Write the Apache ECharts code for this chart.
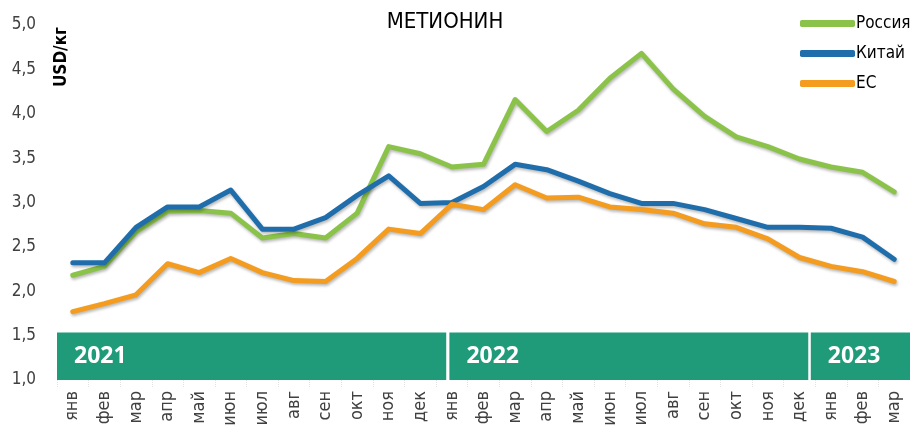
<!DOCTYPE html>
<html>
<head>
<meta charset="utf-8">
<title>Метионин</title>
<script src="https://cdn.jsdelivr.net/npm/echarts@6/dist/echarts.min.js"></script>
<style>
  html, body { margin: 0; padding: 0; background: #fff; }
  #chart { width: 910px; height: 436px; }
</style>
</head>
<body>
<div id="chart"></div>
<script>
// подписи по оси X (янв 2021 - мар 2023)
var months = ["янв", "фев", "мар", "апр", "май", "июн", "июл", "авг", "сен", "окт", "ноя", "дек",
              "янв", "фев", "мар", "апр", "май", "июн", "июл", "авг", "сен", "окт", "ноя", "дек",
              "янв", "фев", "мар"];
// цены, USD/кг
var russia = [2.18, 2.28, 2.67, 2.90, 2.91, 2.88, 2.60, 2.65, 2.60, 2.88, 3.63, 3.55,
              3.40, 3.43, 4.16, 3.80, 4.04, 4.40, 4.68, 4.28, 3.97, 3.74, 3.63, 3.49,
              3.40, 3.34, 3.12];
var china = [2.32, 2.32, 2.72, 2.95, 2.95, 3.14, 2.70, 2.70, 2.83, 3.08, 3.30, 2.99,
             3.00, 3.18, 3.43, 3.37, 3.24, 3.10, 2.99, 2.99, 2.92, 2.82, 2.72, 2.72,
             2.71, 2.61, 2.36];
var eu = [1.77, 1.86, 1.96, 2.31, 2.21, 2.37, 2.21, 2.12, 2.11, 2.37, 2.70, 2.65,
          2.98, 2.92, 3.20, 3.05, 3.06, 2.95, 2.92, 2.88, 2.76, 2.72, 2.59, 2.38,
          2.28, 2.22, 2.11];
var years = ["2021", "2022", "2023"];
var yTicks = [1.0, 1.5, 2.0, 2.5, 3.0, 3.5, 4.0, 4.5, 5.0];

// границы плашек с годами (в долях категорий) — только оформление
var bandSpans = [[-0.5, 11.82], [11.92, 23.28], [23.36, 26.5]];

(function() {
  var myChart = echarts.init(document.getElementById("chart"));
  var font = "'Liberation Sans Narrow', 'DejaVu Sans Condensed', 'Roboto', sans-serif";

  function lineSeries(name, data, color) {
    return {
      name: name,
      type: "line",
      data: data,
      symbol: "none",
      lineStyle: {
        width: 5,
        color: color,
        cap: "round",
        join: "round",
        shadowColor: "rgba(0,0,0,0.28)",
        shadowBlur: 3,
        shadowOffsetX: 1,
        shadowOffsetY: 2
      },
      itemStyle: { color: color },
      z: 3
    };
  }

  var option = {
    animation: false,
    backgroundColor: "#fff",
    textStyle: { fontFamily: font },
    title: {
      text: "МЕТИОНИН",
      left: 440,
      textAlign: "center",
      top: 6,
      textStyle: { fontFamily: font, fontSize: 22, fontWeight: 500, color: "#000" }
    },
    legend: {
      orient: "vertical",
      left: 795,
      top: 10,
      itemWidth: 55,
      itemHeight: 7,
      itemGap: 13,
      icon: "roundRect",
      data: ["Россия", "Китай", "ЕС"],
      textStyle: { fontFamily: font, fontSize: 17, color: "#000", padding: [0, 0, 0, -4] }
    },
    grid: { left: 57, right: -3, top: 25, bottom: 56 },
    xAxis: [
      {
        type: "category",
        data: months,
        boundaryGap: true,
        axisLine: { show: false },
        axisTick: { show: true, length: 7, lineStyle: { color: "#e2e2e2", type: "dotted" } },
        axisLabel: {
          interval: 0,
          rotate: 90,
          margin: 11,
          fontFamily: font,
          fontSize: 18,
          color: "#404040"
        }
      },
      {
        type: "value",
        min: -0.5,
        max: 26.5,
        show: false
      }
    ],
    yAxis: {
      type: "value",
      min: 1,
      max: 5,
      interval: 0.5,
      axisLine: { show: false },
      axisTick: { show: false },
      splitLine: { show: false },
      axisLabel: {
        margin: 21,
        fontFamily: font,
        fontSize: 17,
        color: "#404040",
        formatter: function(v) { return v.toFixed(1).replace(".", ","); }
      }
    },
    graphic: [
      {
        type: "text",
        x: 62,
        y: 57,
        rotation: Math.PI / 2,
        style: {
          text: "USD/кг",
          fontFamily: font,
          fontSize: 17,
          fontWeight: "bold",
          fill: "#000",
          align: "center",
          verticalAlign: "middle"
        }
      }
    ],
    series: [
      {
        // плашки с годами
        type: "line",
        xAxisIndex: 1,
        data: [],
        silent: true,
        z: 1,
        markArea: {
          silent: true,
          itemStyle: { color: "#1f9b7a" },
          label: {
            show: true,
            position: "insideLeft",
            distance: 17,
            color: "#fff",
            fontFamily: "'Open Sans', sans-serif",
            fontWeight: "bold",
            fontSize: 23
          },
          data: years.map(function(y, i) {
            return [
              { name: y, xAxis: bandSpans[i][0], yAxis: yTicks[0] },
              { xAxis: bandSpans[i][1], yAxis: 1.535 }
            ];
          })
        }
      },
      lineSeries("Россия", russia, "#8bc34a"),
      lineSeries("Китай", china, "#1f6eab"),
      lineSeries("ЕС", eu, "#f39c1f")
    ]
  };
  myChart.setOption(option);
  window.addEventListener("resize", function() {
    myChart.resize();
  });
})();
</script>
</body>
</html>
